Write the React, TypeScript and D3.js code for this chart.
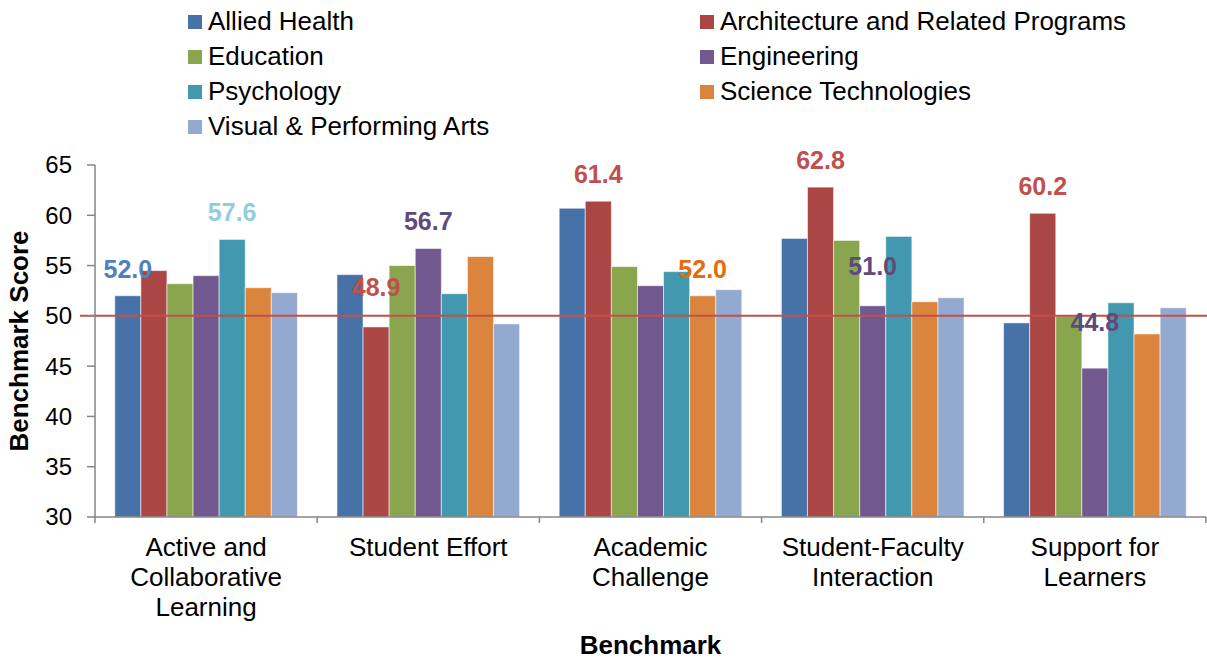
import React from "react";
import { scaleBand, scaleLinear, range, format } from "d3";

const categories = [
  ["Active and", "Collaborative", "Learning"],
  ["Student Effort"],
  ["Academic", "Challenge"],
  ["Student-Faculty", "Interaction"],
  ["Support for", "Learners"],
];
const programs = [
  "Allied Health",
  "Architecture and Related Programs",
  "Education",
  "Engineering",
  "Psychology",
  "Science Technologies",
  "Visual & Performing Arts",
];
// one array per program, in category order
const alliedHealth = [52.0, 54.1, 60.7, 57.7, 49.3];
const architecture = [54.5, 48.9, 61.4, 62.8, 60.2];
const education = [53.2, 55.0, 54.9, 57.5, 50.0];
const engineering = [54.0, 56.7, 53.0, 51.0, 44.8];
const psychology = [57.6, 52.2, 54.4, 57.9, 51.3];
const scienceTech = [52.8, 55.9, 52.0, 51.4, 48.2];
const visualArts = [52.3, 49.2, 52.6, 51.8, 50.8];
const series = [alliedHealth, architecture, education, engineering, psychology, scienceTech, visualArts];

const yTicks = [30, 35, 40, 45, 50, 55, 60, 65];
const benchmarkLine = 50;

// highlighted value labels: [category, program]
const callouts = [
  [0, 0], [0, 4], [1, 1], [1, 3], [2, 1], [2, 5], [3, 1], [3, 3], [4, 1], [4, 3],
];
const calloutColors = ["#4F81BD", "#93CDDD", "#C0504D", "#604A7B", "#C0504D", "#E46C0A", "#C0504D", "#604A7B", "#C0504D", "#604A7B"];
const calloutLift = [18, 18, 31, 18, 18, 18, 18, 31, 18, 37];

const colors = ["#4672A8", "#AA4644", "#89A54E", "#71588F", "#4298AF", "#DB843D", "#93A9CF"];

const App = () => {
  const width = 1207;
  const height = 660;
  const left = 95;
  const right = 1206;
  const top = 165;
  const bottom = 517;
  const font = "Arial, 'Liberation Sans', sans-serif";

  const xScale = scaleBand<number>()
    .domain(range(categories.length))
    .range([left, right])
    .paddingInner(0.178)
    .paddingOuter(0.089);

  const inner = scaleBand<number>()
    .domain(range(programs.length))
    .range([0, xScale.bandwidth()]);

  const yScale = scaleLinear().domain([30, 65]).range([bottom, top]);
  const step = xScale.step();
  const fmt = format(".1f");

  return (
    <svg width={width} height={height} style={{ position: "absolute", left: 0, top: 0 }} fontFamily={font}>
      <rect width={width} height={height} fill="white" />

      {/* legend */}
      {programs.map((p, i) => {
        const col = i % 2;
        const row = Math.floor(i / 2);
        const lx = 188 + col * 512;
        const ly = 30 + row * 35;
        return (
          <g key={p}>
            <rect x={lx} y={ly - 15} width={14} height={14} fill={colors[i]} />
            <text x={lx + 20} y={ly} fontSize={26} fill="#000">{p}</text>
          </g>
        );
      })}

      {/* bars */}
      {series.map((vals, s) =>
        vals.map((v, c) => (
          <rect
            key={`${s}-${c}`}
            x={(xScale(c) as number) + (inner(s) as number)}
            y={yScale(v)}
            width={inner.bandwidth()}
            height={bottom - yScale(v)}
            fill={colors[s]}
            stroke="rgba(255,255,255,0.55)"
            strokeWidth={1}
          />
        ))
      )}

      {/* benchmark line */}
      <line x1={80} x2={width} y1={yScale(benchmarkLine)} y2={yScale(benchmarkLine)} stroke="#C0504D" strokeWidth={2} />

      {/* y axis */}
      <line x1={left} x2={left} y1={top} y2={bottom} stroke="#868686" strokeWidth={1.5} />
      {yTicks.map((t) => (
        <g key={t}>
          <line x1={left - 8} x2={left} y1={yScale(t)} y2={yScale(t)} stroke="#868686" strokeWidth={1.5} />
          <text x={72} y={yScale(t)} dy="0.35em" textAnchor="end" fontSize={24}>{t}</text>
        </g>
      ))}

      {/* x axis */}
      <line x1={left} x2={right} y1={bottom} y2={bottom} stroke="#868686" strokeWidth={1.5} />
      {range(categories.length + 1).map((i) => (
        <line key={i} x1={left + i * step} x2={left + i * step} y1={bottom} y2={bottom + 6} stroke="#868686" strokeWidth={1.5} />
      ))}
      {categories.map((lines, c) => (
        <text key={c} x={(xScale(c) as number) + xScale.bandwidth() / 2} y={556} textAnchor="middle" fontSize={26}>
          {lines.map((l, k) => (
            <tspan key={k} x={(xScale(c) as number) + xScale.bandwidth() / 2} dy={k === 0 ? 0 : 30}>{l}</tspan>
          ))}
        </text>
      ))}

      {/* value callouts */}
      {callouts.map(([c, s], i) => {
        const v = series[s][c];
        return (
          <text
            key={i}
            x={(xScale(c) as number) + (inner(s) as number) + inner.bandwidth() / 2}
            y={yScale(v) - calloutLift[i]}
            textAnchor="middle"
            fontSize={25}
            fontWeight="bold"
            fill={calloutColors[i]}
          >
            {fmt(v)}
          </text>
        );
      })}

      {/* axis titles */}
      <text x={(left + right) / 2} y={654} textAnchor="middle" fontSize={26} fontWeight="bold">Benchmark</text>
      <text transform={`translate(28,${(top + bottom) / 2}) rotate(-90)`} textAnchor="middle" fontSize={26} fontWeight="bold">Benchmark Score</text>
    </svg>
  );
};

export default App;
